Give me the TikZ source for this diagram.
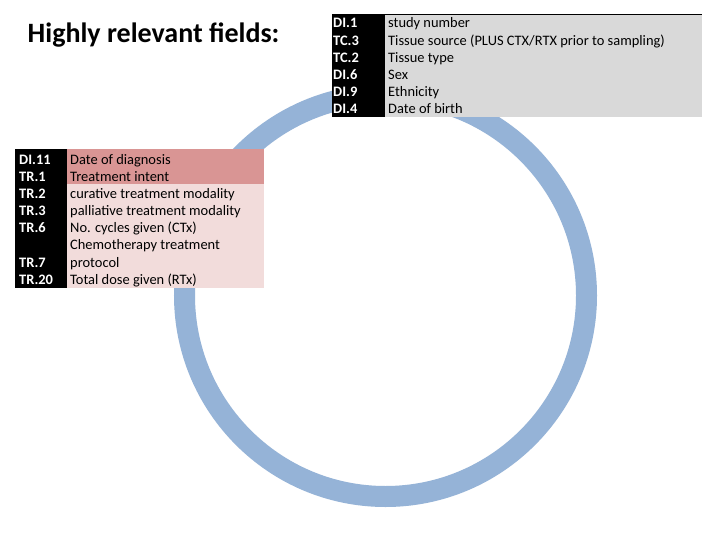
\documentclass[tikz,border=0pt]{standalone}
\usepackage{fontspec}
\setmainfont{Carlito}
\usetikzlibrary{positioning}
\definecolor{ringBlue}{RGB}{149,179,215}
\definecolor{greyCell}{RGB}{217,217,217}
\definecolor{pinkDark}{RGB}{217,149,148}
\definecolor{pinkLight}{RGB}{242,220,219}
\tikzset{
  hr/ring/.style={draw=ringBlue, line width=21bp},
  hr/title/.style={font=\fontsize{28.1}{34}\selectfont\bfseries,
    anchor=base west, inner sep=0pt},
  hr/col/.style={rectangle, anchor=north west, inner sep=0pt,
    outer sep=0pt},
  hr/code/.style={font=\fontsize{14.5}{17}\selectfont\bfseries\color{white},
    anchor=base west, inner sep=0pt},
  hr/field/.style={font=\fontsize{14.5}{17}\selectfont\color{black},
    anchor=base west, inner sep=0pt}
}
\begin{document}
\begin{tikzpicture}[x=1bp, y=-1bp]
  \path[fill=white] (0,0) rectangle (720,540);

  % Ring behind both tables
  \draw[hr/ring] (385.5,295.5) circle[radius=201bp];

  % Title
  \node[hr/title] at (27.5, 43) (title) {Highly relevant fields:};

  % Top table: black code column + grey field column
  \node[hr/col, fill=black, minimum width=53bp, minimum height=102.5bp]
        at (332, 14.5) (topCodes) {};
  \node[hr/col, fill=greyCell, minimum width=317bp, minimum height=102.5bp,
        right=0pt of topCodes] (topFields) {};
  \draw[line width=1bp] (topCodes.north west) -- (topFields.north east);

  \node[hr/code]  at (333, 28.0)  (c1) {DI.1};
  \node[hr/field] at (388, 28.0)  (f1) {study number};
  \node[hr/code]  at (333, 45.1)  (c2) {TC.3};
  \node[hr/field] at (388, 45.1)  (f2) {Tissue source (PLUS CTX/RTX prior to sampling)};
  \node[hr/code]  at (333, 62.1)  (c3) {TC.2};
  \node[hr/field] at (388, 62.1)  (f3) {Tissue type};
  \node[hr/code]  at (333, 79.2)  (c4) {DI.6};
  \node[hr/field] at (388, 79.2)  (f4) {Sex};
  \node[hr/code]  at (333, 96.2)  (c5) {DI.9};
  \node[hr/field] at (388, 96.2)  (f5) {Ethnicity};
  \node[hr/code]  at (333, 113.3) (c6) {DI.4};
  \node[hr/field] at (388, 113.3) (f6) {Date of birth};

  % Left table: black code column + pink field column (first two rows darker)
  \node[hr/col, fill=black, minimum width=51.7bp, minimum height=138bp]
        at (15, 149.5) (leftCodes) {};
  \node[hr/col, fill=pinkLight, minimum width=197.3bp, minimum height=138bp,
        right=0pt of leftCodes] (leftFields) {};
  \node[hr/col, fill=pinkDark, minimum width=197.3bp, minimum height=34.5bp]
        at (leftFields.north west) (leftTop) {};

  \node[hr/code]  at (19, 164.5)  (l1) {DI.11};
  \node[hr/field] at (70, 164.5)  (g1) {Date of diagnosis};
  \node[hr/code]  at (19, 181.6)  (l2) {TR.1};
  \node[hr/field] at (70, 181.6)  (g2) {Treatment intent};
  \node[hr/code]  at (19, 198.7)  (l3) {TR.2};
  \node[hr/field] at (70, 198.7)  (g3) {curative treatment modality};
  \node[hr/code]  at (19, 215.8)  (l4) {TR.3};
  \node[hr/field] at (70, 215.8)  (g4) {palliative treatment modality};
  \node[hr/code]  at (19, 232.9)  (l5) {TR.6};
  \node[hr/field] at (70, 232.9)  (g5) {No. cycles given (CTx)};
  \node[hr/field] at (70, 250.0)  (g6) {Chemotherapy treatment};
  \node[hr/code]  at (19, 267.1)  (l7) {TR.7};
  \node[hr/field] at (70, 267.1)  (g7) {protocol};
  \node[hr/code]  at (19, 284.2)  (l8) {TR.20};
  \node[hr/field] at (70, 284.2)  (g8) {Total dose given (RTx)};
\end{tikzpicture}
\end{document}
